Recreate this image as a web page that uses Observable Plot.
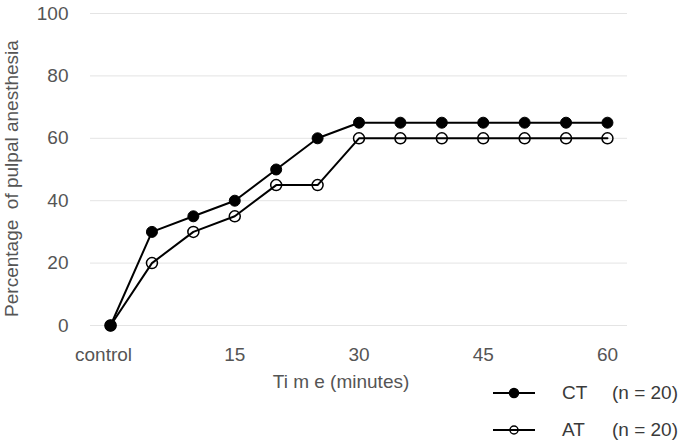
<!DOCTYPE html>
<html>
<head>
<meta charset="utf-8">
<script src="https://cdn.jsdelivr.net/npm/d3@7"></script>
<script src="https://cdn.jsdelivr.net/npm/@observablehq/plot@0.6"></script>
<style>
  html, body { margin: 0; padding: 0; background: #fff; }
  #wrap { position: relative; width: 679px; height: 446px; overflow: hidden; font-family: "Liberation Sans", Arial, sans-serif; }
  .legend { position: absolute; left: 491px; top: 374px; color: #3a3a3a; font-size: 19px; }
  .legend .row { display: flex; align-items: center; height: 37px; white-space: nowrap; }
  .legend svg { display: block; }
  .legend .name { margin-left: 25px; width: 50px; }
</style>
</head>
<body>
<div id="wrap"></div>
<script>
// Minutes after injection (0 = control)
const times = [0, 5, 10, 15, 20, 25, 30, 35, 40, 45, 50, 55, 60];
// Percentage of teeth with pulpal anesthesia
const ctValues = [0, 30, 35, 40, 50, 60, 65, 65, 65, 65, 65, 65, 65];
const atValues = [0, 20, 30, 35, 45, 45, 60, 60, 60, 60, 60, 60, 60];
const xTicks = [0, 15, 30, 45, 60];
const yTicks = [0, 20, 40, 60, 80, 100];
const seriesNames = ["CT", "AT"];
const seriesN = [20, 20];

const rows = (vals, s) => times.map((t, i) => ({time: t, pct: vals[i], series: s}));
const ct = rows(ctValues, "CT");
const at = rows(atValues, "AT");

const tickColor = "#555555";
const xFormat = d => d === 0 ? "control" : String(d);

const chart = Plot.plot({
  width: 679,
  height: 446,
  marginLeft: 90,
  marginRight: 52,
  marginTop: 13,
  marginBottom: 121,
  style: {fontFamily: "Liberation Sans, Arial, sans-serif", fontSize: "19px", color: tickColor, background: "#fff", overflow: "visible"},
  x: {domain: [-2.42, 62.42], label: null},
  y: {domain: [0, 100], label: null},
  marks: [
    Plot.ruleY(yTicks, {stroke: "#e4e4e4", strokeWidth: 1}),
    // the "control" label sits a little left of its point
    Plot.axisX(xTicks.filter(d => d === 0), {tickSize: 0, tickPadding: 22, tickFormat: xFormat, label: null, fontSize: 19, dx: -7}),
    Plot.axisX(xTicks.filter(d => d !== 0), {tickSize: 0, tickPadding: 22, tickFormat: xFormat, label: null, fontSize: 19}),
    Plot.axisY({ticks: yTicks, tickSize: 0, tickPadding: 22, label: null, fontSize: 19}),
    Plot.line(at, {x: "time", y: "pct", stroke: "#000", strokeWidth: 2}),
    Plot.line(ct, {x: "time", y: "pct", stroke: "#000", strokeWidth: 2}),
    Plot.dot(at, {x: "time", y: "pct", r: 5.5, fill: "none", stroke: "#000", strokeWidth: 1.5}),
    Plot.dot(ct, {x: "time", y: "pct", r: 5.5, fill: "#000", stroke: "#000", strokeWidth: 1}),
    Plot.text(["Ti m e (minutes)"], {frameAnchor: "bottom", dx: -18, dy: 62, fill: tickColor, fontSize: 19}),
    Plot.text(["Percentage  of pulpal anesthesia"], {frameAnchor: "left", textAnchor: "middle", dx: -79, dy: 9, rotate: -90, fill: tickColor, fontSize: 19})
  ]
});

const wrap = document.getElementById("wrap");
wrap.appendChild(chart);

// Legend under the plot, on the right
const legend = document.createElement("div");
legend.className = "legend";
seriesNames.forEach((name, i) => {
  const row = document.createElement("div");
  row.className = "row";
  const filled = i === 0;
  row.innerHTML =
    `<svg width="46" height="14" viewBox="0 0 46 14">
       <line x1="2" x2="44" y1="7" y2="7" stroke="#000" stroke-width="2"/>
       <circle cx="23" cy="7" r="${filled ? 4.5 : 4}" fill="${filled ? "#000" : "none"}" stroke="#000" stroke-width="1.5"/>
     </svg>
     <span class="name">${name}</span><span>(n = ${seriesN[i]})</span>`;
  legend.appendChild(row);
});
wrap.appendChild(legend);
</script>
</body>
</html>
